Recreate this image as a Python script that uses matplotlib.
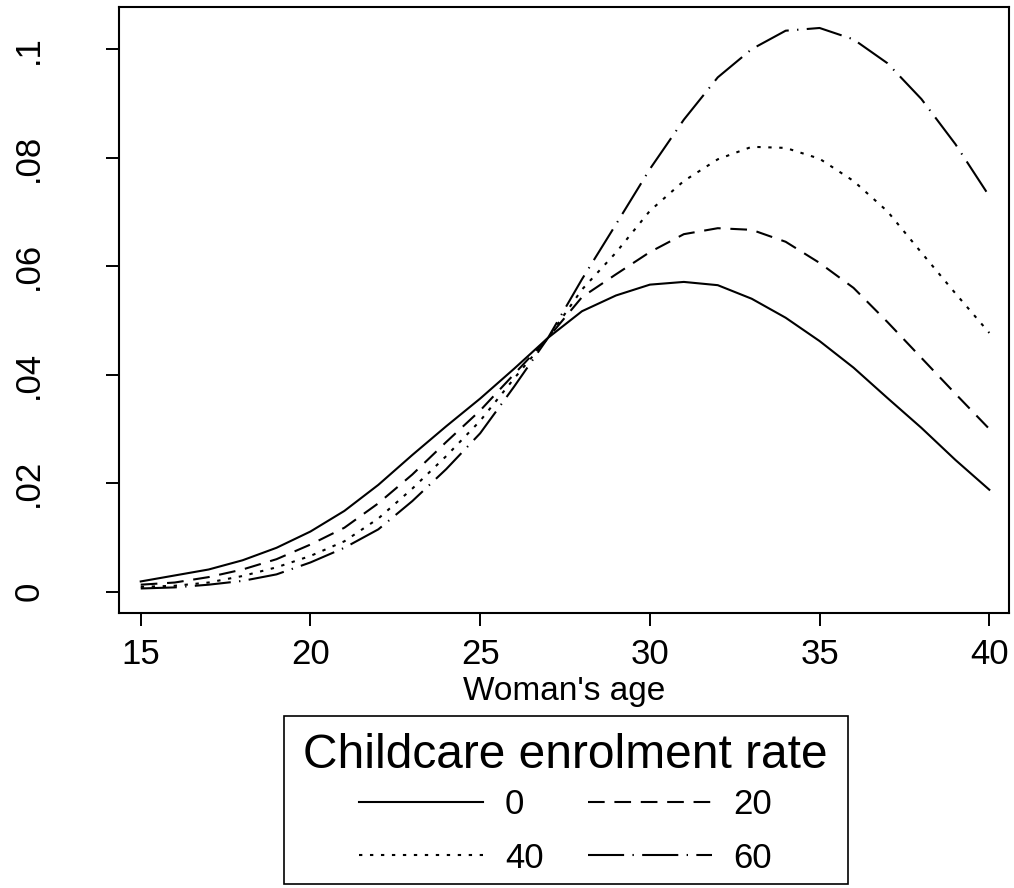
import matplotlib
matplotlib.use("Agg")
import matplotlib.pyplot as plt
from matplotlib.patches import Rectangle

plt.rcParams["font.family"] = ["Liberation Sans", "DejaVu Sans"]
plt.rcParams["lines.scale_dashes"] = False

# woman's age
age = list(range(15, 41))

# predicted values by childcare enrolment rate
rate_0 = [0.0019, 0.0030, 0.0041, 0.0058, 0.0081, 0.0111, 0.0149, 0.0197, 0.0252,
          0.0305, 0.0356, 0.0411, 0.0468, 0.0517, 0.0546, 0.0566, 0.0571, 0.0565,
          0.0540, 0.0505, 0.0462, 0.0413, 0.0357, 0.0302, 0.0243, 0.0188]
rate_20 = [0.0013, 0.0017, 0.0027, 0.0041, 0.0060, 0.0087, 0.0118, 0.0163, 0.0216,
           0.0276, 0.0334, 0.0401, 0.0468, 0.0543, 0.0585, 0.0626, 0.0659, 0.0670,
           0.0667, 0.0645, 0.0606, 0.0560, 0.0497, 0.0431, 0.0365, 0.0300]
rate_40 = [0.0009, 0.0011, 0.0017, 0.0029, 0.0045, 0.0066, 0.0093, 0.0135, 0.0190,
           0.0250, 0.0315, 0.0393, 0.0468, 0.0557, 0.0625, 0.0702, 0.0757, 0.0797,
           0.0820, 0.0818, 0.0798, 0.0757, 0.0701, 0.0625, 0.0550, 0.0477]
rate_60 = [0.0006, 0.0008, 0.0013, 0.0020, 0.0032, 0.0054, 0.0081, 0.0115, 0.0167,
           0.0226, 0.0292, 0.0378, 0.0468, 0.0576, 0.0677, 0.0779, 0.0870, 0.0948,
           0.1000, 0.1034, 0.1039, 0.1018, 0.0974, 0.0908, 0.0825, 0.0729]

series_labels = ["0", "20", "40", "60"]
x_ticks = [15, 20, 25, 30, 35, 40]
y_ticks = [0, 0.02, 0.04, 0.06, 0.08, 0.1]
y_tick_labels = ["0", ".02", ".04", ".06", ".08", ".1"]

fig = plt.figure(figsize=(10.14, 8.88), dpi=100)
ax = fig.add_axes([0.1177, 0.3093, 0.8777, 0.6832])

lw = 1.5
l0, = ax.plot(age, rate_0, color="black", lw=lw, linestyle="-")
l20, = ax.plot(age, rate_20, color="black", lw=lw, dashes=(12, 7))
l40, = ax.plot(age, rate_40, color="black", lw=lw, dashes=(2.4, 5.5))
l60, = ax.plot(age, rate_60, color="black", lw=lw, dashes=(26, 6, 1, 6))

ax.set_xlim(14.37, 40.59)
ax.set_ylim(-0.00398, 0.10783)
ax.set_xticks(x_ticks)
ax.set_yticks(y_ticks, y_tick_labels)

for sp in ax.spines.values():
    sp.set_linewidth(1.5)

ax.tick_params(axis="both", direction="out", length=9.4, width=1.4, labelsize=25)
ax.tick_params(axis="x", pad=8)
ax.tick_params(axis="y", labelrotation=90, pad=44)
for t in ax.get_yticklabels():
    t.set_va("center")

ax.set_xlabel("Woman's age", fontsize=24, labelpad=4)

# legend, rows: 0 / 20 and 40 / 60
handles = [l0, l40, l20, l60]
labels = [series_labels[0], series_labels[2], series_labels[1], series_labels[3]]
leg = fig.legend(handles, labels,
                 loc="center", bbox_to_anchor=(0.558, 0.0636),
                 ncol=2, fontsize=25,
                 handlelength=3.57, handletextpad=0.63, columnspacing=1.27,
                 labelspacing=0.58, borderpad=0.5, frameon=False)
fig.text(0.558, 1 - 755 / 888, "Childcare enrolment rate", fontsize=34.5,
         ha="center", va="center")

# legend box
fig.patches.append(Rectangle((284 / 1014, 1 - 884 / 888), 564 / 1014, 168 / 888,
                             transform=fig.transFigure, fill=False,
                             lw=1.2, ec="black"))

fig.savefig("out.png", dpi=100)
